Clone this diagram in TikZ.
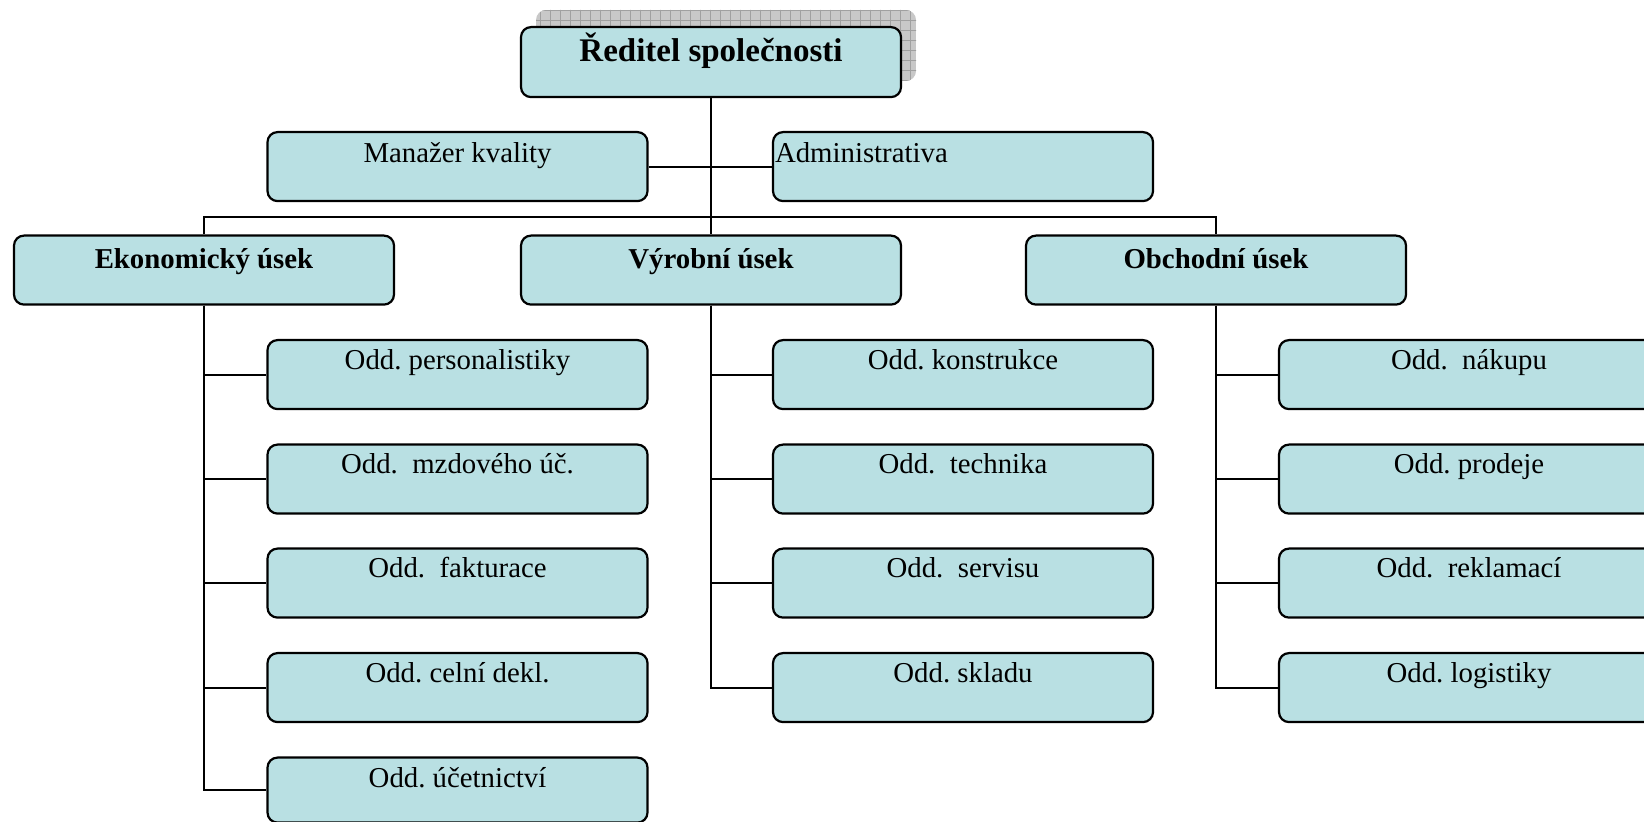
\documentclass[tikz,border=0pt]{standalone}
\usepackage{fontspec}
\setmainfont{Liberation Serif}
\definecolor{boxfill}{RGB}{185,224,227}
\definecolor{shadowfill}{RGB}{200,200,200}
\definecolor{shadowgrid}{RGB}{160,160,160}
\frenchspacing
\tikzset{
  x=0.5pt, y=-0.5pt,
  orgbox/.style={draw, line width=1.1pt, rounded corners=5pt, fill=boxfill,
    inner xsep=0pt, inner ysep=0pt, minimum width=190pt, anchor=north,
    font=\fontsize{14.4}{17}\selectfont, text height=14.5pt, text depth=20pt},
  headbox/.style={orgbox, font=\fontsize{14.4}{17}\selectfont\bfseries,
    text height=16.5pt, text depth=18pt},
  titlebox/.style={orgbox, font=\fontsize{16.5}{19}\selectfont\bfseries,
    text height=17pt, text depth=18pt},
  link/.style={line width=1pt}
}
\begin{document}
\begin{tikzpicture}
\clip (0,0) rectangle (1644,822);
% grid shadow of the top box
\begin{scope}
  \clip[rounded corners=5pt] (536,10) rectangle (916,81);
  \fill[shadowfill] (536,10) rectangle (916,81);
  \draw[shadowgrid, line width=0.4pt, step=5pt] (530,4) grid (922,88);
\end{scope}
% nodes
\node[titlebox] (ceo) at (711,26) {Ředitel společnosti};
\node[orgbox, text height=15pt, text depth=19.5pt] (man) at (457.5,131) {Manažer kvality};
\node[orgbox, text height=15pt, text depth=19.5pt, text width=188pt, align=left, inner xsep=1pt] (adm) at (963,131) {Administrativa};
\node[headbox] (eko) at (204,234.5) {Ekonomický úsek};
\node[headbox] (vyr) at (711,234.5) {Výrobní úsek};
\node[headbox] (obc) at (1216,234.5) {Obchodní úsek};
% Ekonomický children
\node[orgbox] (e1) at (457.5,339) {Odd. personalistiky};
\node[orgbox] (e2) at (457.5,443.5) {Odd.\ \ mzdového úč.};
\node[orgbox] (e3) at (457.5,547.5) {Odd.\ \ fakturace};
\node[orgbox] (e4) at (457.5,652) {Odd. celní dekl.};
\node[orgbox, text height=15pt, text depth=17.5pt] (e5) at (457.5,756.5) {Odd. účetnictví};
% Výrobní children
\node[orgbox] (v1) at (963,339) {Odd. konstrukce};
\node[orgbox] (v2) at (963,443.5) {Odd.\ \ technika};
\node[orgbox] (v3) at (963,547.5) {Odd.\ \ servisu};
\node[orgbox] (v4) at (963,652) {Odd. skladu};
% Obchodní children
\node[orgbox] (o1) at (1469,339) {Odd.\ \ nákupu};
\node[orgbox] (o2) at (1469,443.5) {Odd. prodeje};
\node[orgbox] (o3) at (1469,547.5) {Odd.\ \ reklamací};
\node[orgbox] (o4) at (1469,652) {Odd. logistiky};
% connectors
\coordinate (bus) at (711,217.5);
\draw[link] (ceo.south) -- (vyr.north);
\draw[link] (man.east) -- (adm.west);
\draw[link] (eko.north) |- (bus) -| (obc.north);
\foreach \c in {e1,e2,e3,e4,e5} \draw[link] (eko.south) |- (\c.west);
\foreach \c in {v1,v2,v3,v4} \draw[link] (vyr.south) |- (\c.west);
\foreach \c in {o1,o2,o3,o4} \draw[link] (obc.south) |- (\c.west);
\end{tikzpicture}
\end{document}
